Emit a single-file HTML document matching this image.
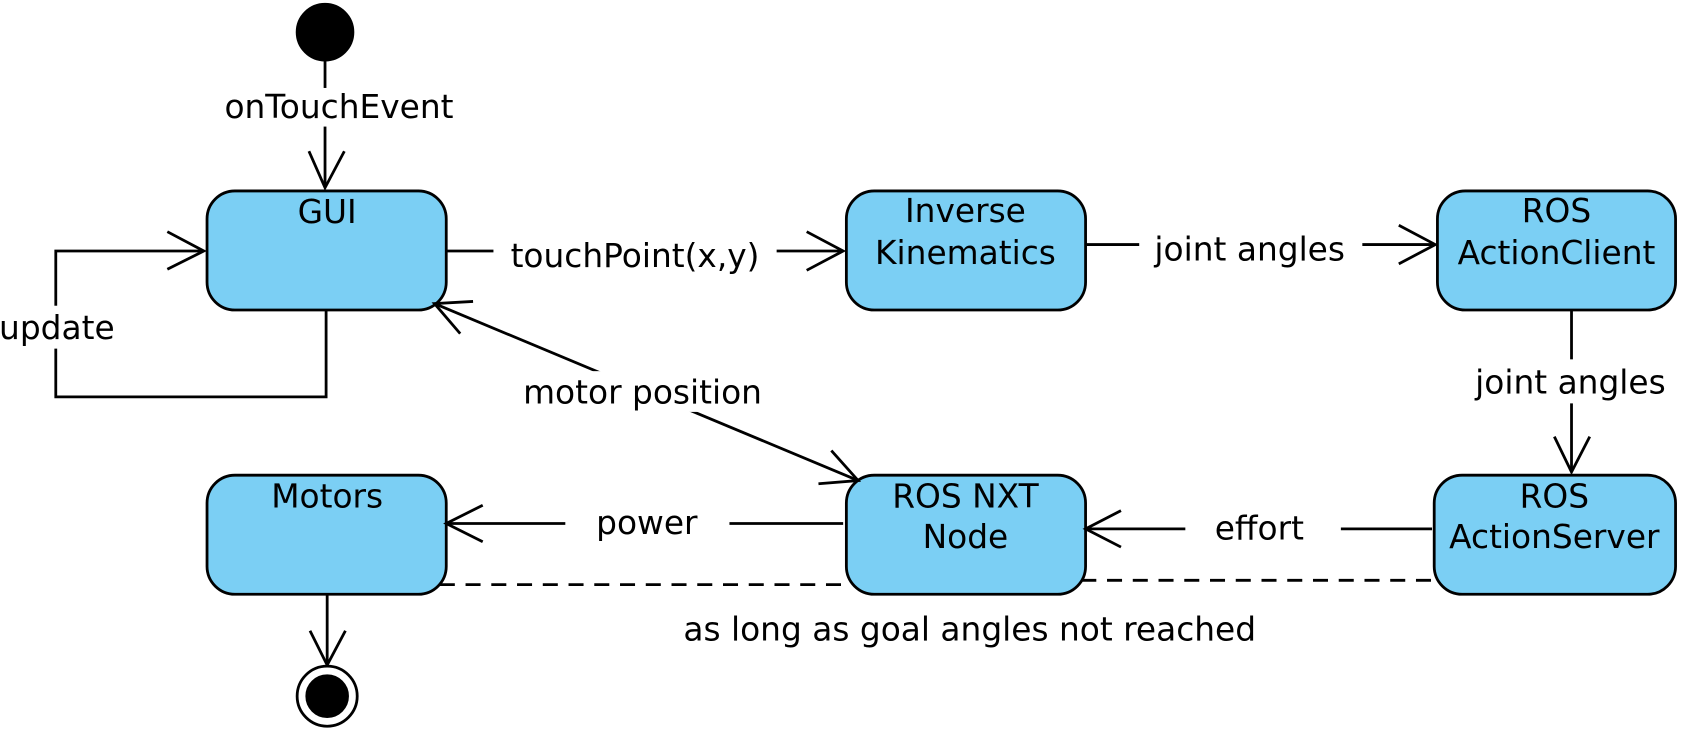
<!DOCTYPE html>
<html><head><meta charset="utf-8"><style>html,body{margin:0;padding:0;background:#fff}svg{display:block}</style></head>
<body>
<svg width="1682" height="732" viewBox="0 0 1568 682.4" preserveAspectRatio="none" xmlns="http://www.w3.org/2000/svg" font-family="'DejaVu Sans','Liberation Sans',sans-serif" font-size="30.6" fill="#000">
<g stroke="#000" stroke-width="2.6" fill="none">
<circle cx="303" cy="30" r="26" fill="#000"/>
<line x1="303" y1="56" x2="303" y2="82"/><line x1="303" y1="118" x2="303" y2="175"/>
<polyline points="288,141 303,175 321,141"/>
<rect x="193" y="178" width="223" height="111" rx="26" fill="#7bcff4"/>
<rect x="789" y="178" width="223" height="111" rx="26" fill="#7bcff4"/>
<rect x="1340" y="178" width="222" height="111" rx="26" fill="#7bcff4"/>
<rect x="193" y="443" width="223" height="111" rx="26" fill="#7bcff4"/>
<rect x="789" y="443" width="223" height="111" rx="26" fill="#7bcff4"/>
<rect x="1337" y="443" width="225" height="111" rx="26" fill="#7bcff4"/>
<line x1="416" y1="234" x2="460" y2="234"/><line x1="724" y1="234" x2="786" y2="234"/>
<polyline points="752,216 786,234 752,252"/>
<line x1="1012" y1="228" x2="1062" y2="228"/><line x1="1270" y1="228" x2="1338" y2="228"/>
<polyline points="1304,210 1338,228 1304,246"/>
<line x1="1465" y1="289" x2="1465" y2="335"/><line x1="1465" y1="376" x2="1465" y2="440"/>
<polyline points="1449,407 1465,440 1482,407"/>
<line x1="1335" y1="493" x2="1250" y2="493"/><line x1="1105" y1="493" x2="1012" y2="493"/>
<polyline points="1045,476 1012,493 1045,510"/>
<line x1="786" y1="488" x2="680" y2="488"/><line x1="527" y1="488" x2="416" y2="488"/>
<polyline points="450,471 416,488 450,505"/>
<line x1="305" y1="554" x2="305" y2="620"/>
<polyline points="289,588 305,620 322,588"/>
<circle cx="305" cy="649" r="28" fill="#fff"/>
<circle cx="305" cy="649" r="19" fill="#000"/>
<polyline points="304,289 304,370 52,370 52,234 190,234"/>
<polyline points="156,216 190,234 156,251"/>
<line x1="405" y1="283" x2="800" y2="448"/>
<polyline points="441,281 405,283 429,311"/>
<polyline points="775,420 800,448 763,451"/>
<line x1="410" y1="545" x2="789" y2="545" stroke-dasharray="14,10"/>
<line x1="1008" y1="541" x2="1337" y2="541" stroke-dasharray="14,10"/>
</g>
<rect x="0" y="285" width="106" height="40" fill="#fff"/>
<rect x="478" y="346" width="242" height="38" fill="#fff"/>
<g text-anchor="middle">
<text x="316" y="110">onTouchEvent</text>
<text x="305" y="208">GUI</text>
<text x="900" y="207">Inverse</text><text x="900" y="246">Kinematics</text>
<text x="1451" y="207">ROS</text><text x="1451" y="246">ActionClient</text>
<text x="305" y="473">Motors</text>
<text x="900" y="473">ROS NXT</text><text x="900" y="511">Node</text>
<text x="1449" y="473">ROS</text><text x="1449" y="511">ActionServer</text>
<text x="592" y="249">touchPoint(x,y)</text>
<text x="1165" y="243">joint angles</text>
<text x="1464" y="367">joint angles</text>
<text x="1174" y="503">effort</text>
<text x="603" y="498">power</text>
<text x="53" y="316">update</text>
<text x="599" y="376">motor position</text>
<text x="904" y="597">as long as goal angles not reached</text>
</g>
</svg>
</body></html>
